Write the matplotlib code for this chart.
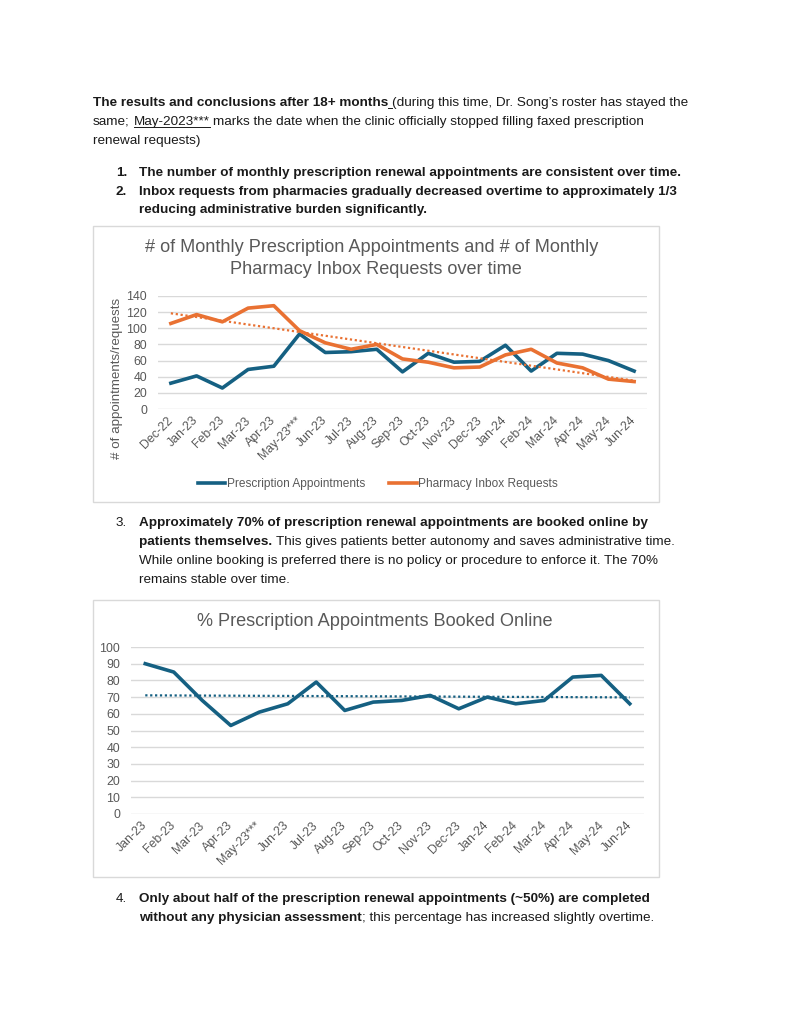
import numpy as np
import matplotlib
matplotlib.use("Agg")
import matplotlib.pyplot as plt
from matplotlib.patches import Rectangle
from matplotlib.lines import Line2D

# chart 1: monthly counts
months1 = ["Dec-22", "Jan-23", "Feb-23", "Mar-23", "Apr-23", "May-23***", "Jun-23",
           "Jul-23", "Aug-23", "Sep-23", "Oct-23", "Nov-23", "Dec-23", "Jan-24",
           "Feb-24", "Mar-24", "Apr-24", "May-24", "Jun-24"]
appointments = [32, 41, 26, 49, 53, 93, 70, 71, 74, 46, 69, 58, 59, 79, 47, 69, 68, 60, 47]
inbox_requests = [106, 117, 108, 125, 128, 97, 82, 74, 80, 62, 58, 51, 52, 67, 74, 57, 51, 37, 34]

# chart 2: % booked online
months2 = ["Jan-23", "Feb-23", "Mar-23", "Apr-23", "May-23***", "Jun-23", "Jul-23",
           "Aug-23", "Sep-23", "Oct-23", "Nov-23", "Dec-23", "Jan-24", "Feb-24",
           "Mar-24", "Apr-24", "May-24", "Jun-24"]
online_pct = [90, 85, 68, 53, 61, 66, 79, 62, 67, 68, 71, 63, 70, 66, 68, 82, 83, 66]

BLUE = "#156082"
ORANGE = "#E97132"
GRAY = "#595959"
GRID = "#D9D9D9"
INK = "#1a1a1a"
FONT = "Liberation Sans"
BODY = 9.7

W, H = 791, 1024
fig = plt.figure(figsize=(W / 100, H / 100), dpi=100)
fig.patch.set_facecolor("white")
renderer = fig.canvas.get_renderer()


def fx(x):
    return x / W


def fy(y):
    return 1 - y / H


def text_width(s, weight):
    t = fig.text(0, 0, s, fontsize=BODY, fontweight=weight, family=FONT)
    w = t.get_window_extent(renderer).width
    t.remove()
    return w


def write_runs(x, y, runs):
    # runs of (text, bold, underline); spaces at run edges measured by hand
    for s, bold, under in runs:
        weight = "bold" if bold else "normal"
        sp = text_width("a a", weight) - text_width("aa", weight)
        if s.startswith(" "):
            if under and not s.strip():
                fig.add_artist(Line2D([fx(x), fx(x + sp)], [fy(y + 2)] * 2, lw=0.7, color=INK))
            x += sp
        core = s.strip()
        if core:
            t = fig.text(fx(x), fy(y), core, fontsize=BODY, fontweight=weight,
                         family=FONT, va="baseline", ha="left", color=INK)
            w = t.get_window_extent(renderer).width
            if under:
                fig.add_artist(Line2D([fx(x), fx(x + w)], [fy(y + 2)] * 2, lw=0.7, color=INK))
            x += w
            if s.endswith(" "):
                x += sp
    return x


def numbered(n, y, bold):
    fig.text(fx(116), fy(y), f"{n}.", fontsize=BODY, fontweight="bold" if bold else "normal",
             family=FONT, va="baseline", ha="left", color=INK)


def px_axes(left, top, right, bottom):
    return fig.add_axes([fx(left), fy(bottom), (right - left) / W, (bottom - top) / H])


def chart_box(left, top, right, bottom):
    fig.add_artist(Rectangle((fx(left), fy(bottom)), (right - left) / W, (bottom - top) / H,
                             transform=fig.transFigure, fill=False, edgecolor=GRID, lw=1.0))


def style_axes(ax, labels, ymax, step):
    ax.set_xlim(-0.5, len(labels) - 0.5)
    ax.set_ylim(0, ymax)
    ax.set_yticks(np.arange(0, ymax + 1, step))
    ax.set_xticks(np.arange(len(labels)))
    ax.set_xticklabels(labels, rotation=45, ha="right", va="center",
                       rotation_mode="anchor")
    for sp in ax.spines.values():
        sp.set_visible(False)
    ax.grid(axis="y", color=GRID, lw=1.0)
    ax.set_axisbelow(True)
    ax.tick_params(length=0, colors=GRAY, labelsize=8.9)
    ax.tick_params(axis="y", pad=8)
    ax.tick_params(axis="x", pad=7)
    for lab in ax.get_xticklabels() + ax.get_yticklabels():
        lab.set_family(FONT)


# ---- header text ----
write_runs(93, 106, [("The results and conclusions after 18+ months", True, False),
                     (" ", False, True),
                     ("(during this time, Dr. Song\u2019s roster has stayed the", False, False)])
write_runs(93, 125, [("same; ", False, False), ("May-2023***", False, True),
                     (" marks the date when the clinic officially stopped filling faxed prescription", False, False)])
write_runs(93, 144, [("renewal requests)", False, False)])

numbered(1, 176, True)
write_runs(139, 176, [("The number of monthly prescription renewal appointments are consistent over time.", True, False)])
numbered(2, 195, True)
write_runs(139, 195, [("Inbox requests from pharmacies gradually decreased overtime to approximately 1/3", True, False)])
write_runs(139, 213, [("reducing administrative burden significantly.", True, False)])

# ---- chart 1 ----
chart_box(93, 226, 659, 502)
fig.text(fx(372), fy(248), "# of Monthly Prescription Appointments and # of Monthly",
         ha="center", va="center", fontsize=13.1, color=GRAY, family=FONT)
fig.text(fx(376), fy(269), "Pharmacy Inbox Requests over time",
         ha="center", va="center", fontsize=13.1, color=GRAY, family=FONT)

ax1 = px_axes(158, 296, 647, 409)
x1 = np.arange(len(months1))
ax1.plot(x1, appointments, color=BLUE, lw=2.6, solid_joinstyle="round",
         label="Prescription Appointments")
ax1.plot(x1, inbox_requests, color=ORANGE, lw=2.6, solid_joinstyle="round",
         label="Pharmacy Inbox Requests")
slope, icpt = np.polyfit(x1, inbox_requests, 1)
ax1.plot(x1, slope * x1 + icpt, color=ORANGE, lw=1.6, ls=(0, (1, 1.2)))
style_axes(ax1, months1, 140, 20)
fig.text(fx(117), fy(378), "# of appointments/requests", rotation=90, ha="center", va="center",
         fontsize=9.6, color=GRAY, family=FONT)
handles = ax1.get_lines()[:2]
ax1.legend(handles, [h.get_label() for h in handles], loc="center",
           bbox_to_anchor=(fx(378), fy(484)), bbox_transform=fig.transFigure,
           ncol=2, frameon=False, handlelength=2.3, handletextpad=0.15,
           columnspacing=2.0, prop={"family": FONT, "size": 8.6},
           labelcolor=GRAY)

# ---- item 3 ----
numbered(3, 526, False)
write_runs(139, 526, [("Approximately 70% of prescription renewal appointments are booked online by", True, False)])
write_runs(139, 545, [("patients themselves.", True, False),
                      (" This gives patients better autonomy and saves administrative time.", False, False)])
write_runs(139, 564, [("While online booking is preferred there is no policy or procedure to enforce it. The 70%", False, False)])
write_runs(139, 583, [("remains stable over time.", False, False)])

# ---- chart 2 ----
chart_box(93, 600, 659, 877)
fig.text(fx(375), fy(622), "% Prescription Appointments Booked Online",
         ha="center", va="center", fontsize=13.1, color=GRAY, family=FONT)
ax2 = px_axes(131, 647, 644, 814)
x2 = np.arange(len(months2))
ax2.plot(x2, online_pct, color=BLUE, lw=2.6, solid_joinstyle="round")
slope2, icpt2 = np.polyfit(x2, online_pct, 1)
ax2.plot(x2, slope2 * x2 + icpt2, color=BLUE, lw=1.6, ls=(0, (1, 1.2)))
style_axes(ax2, months2, 100, 10)

# ---- item 4 ----
numbered(4, 902, False)
write_runs(139, 902, [("Only about half of the prescription renewal appointments (~50%) are completed", True, False)])
write_runs(139, 921, [("without any physician assessment", True, False),
                      ("; this percentage has increased slightly overtime.", False, False)])

fig.savefig("out.png", dpi=100, facecolor="white")
